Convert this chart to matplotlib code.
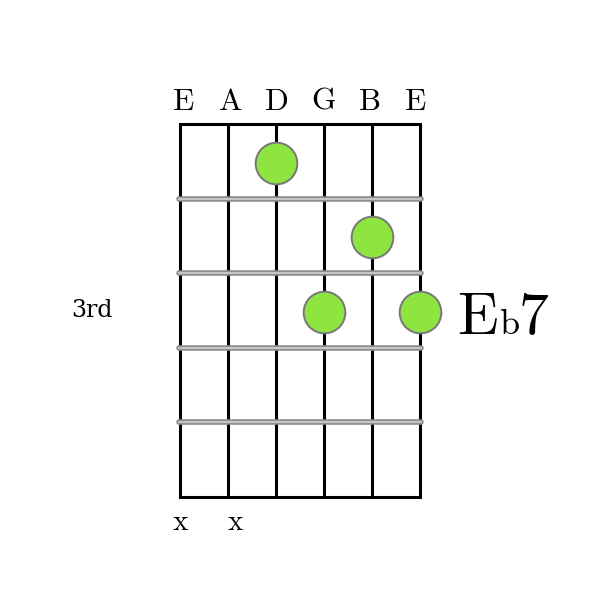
import matplotlib.pyplot as plt

# chord data
chord_name = 'E'
chord_acc = 'b'
chord_ext = '7'
string_names = ['E', 'A', 'D', 'G', 'B', 'E']
dot_strings = [2, 4, 3, 5]
dot_frets = [1, 2, 3, 3]
muted_strings = [0, 1]
n_frets = 5
start_label = '3rd'
start_label_fret = 3

fig = plt.figure(figsize=(6, 6), dpi=100)
ax = fig.add_axes([0, 0, 1, 1])
ax.set_xlim(-180 / 48, 420 / 48)
ax.set_ylim(476 / 74.6, -124 / 74.6)
ax.axis('off')

cm = 'cmr10'

# strings
for s in range(len(string_names)):
    ax.plot([s, s], [0, n_frets], color='black', lw=2.2, solid_capstyle='butt', zorder=2)
    ax.text(2.5 + (s - 2.5) * 0.966, -0.188, string_names[s], ha='center', va='baseline',
            fontsize=22.5, family=cm)

# top and bottom border
ax.plot([0, 5], [0, 0], color='black', lw=2.2, solid_capstyle='projecting', zorder=2)
ax.plot([0, 5], [n_frets, n_frets], color='black', lw=2.2, solid_capstyle='projecting', zorder=2)

# frets (gray double line)
for f in range(1, n_frets):
    ax.plot([-0.02, 5.02], [f, f], color='#8a8a8a', lw=4.0, solid_capstyle='round', zorder=3)
    ax.plot([-0.02, 5.02], [f, f], color='#c4c4c4', lw=1.6, solid_capstyle='round', zorder=3)

# finger dots
ax.scatter(dot_strings, [f - 0.48 for f in dot_frets], s=900, color='#8ee53f',
           edgecolors='#777777', linewidths=1.4, zorder=4)

# muted strings
for s in muted_strings:
    ax.text(s * 1.15, 5.442, 'x', ha='center', va='baseline', fontsize=21, family=cm)

# fret position label
ax.text(-1.83, start_label_fret - 0.5, start_label, ha='center', va='center',
        fontsize=17, family='DejaVu Serif', fontweight='light')

# chord name
ax.text(5.78, 2.815, chord_name, ha='left', va='baseline', fontsize=43, family=cm)
ax.text(6.65, 2.815, chord_acc, ha='left', va='baseline', fontsize=26, family=cm)
ax.text(7.05, 2.815, chord_ext, ha='left', va='baseline', fontsize=43, family=cm)

fig.savefig('out.png', dpi=100)
